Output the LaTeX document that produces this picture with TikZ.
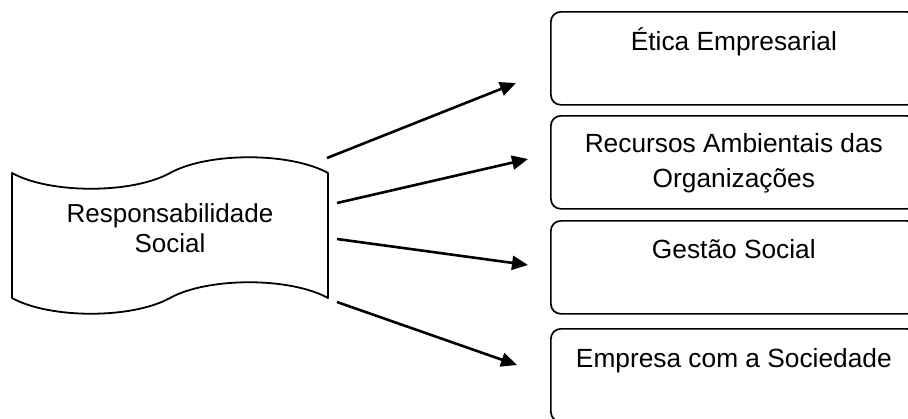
\documentclass[tikz,border=0pt]{standalone}
\usepackage{fontspec}
\setmainfont{Liberation Sans}
\usetikzlibrary{arrows.meta}

\tikzset{
  topic/.style={draw, line width=1.7pt, rounded corners=10pt,
    minimum width=366pt, minimum height=93pt, anchor=north west, inner sep=0pt},
  lbl/.style={font=\fontsize{26.3}{35}\selectfont, align=center, anchor=base, inner sep=0pt},
  link/.style={line width=2.6pt, -{Triangle[length=16pt,width=14pt]}},
  tapeline/.style={line width=1.8pt, line join=round}
}

\begin{document}
\begin{tikzpicture}[x=1pt, y=-1pt]
  \useasboundingbox (0,0) rectangle (908,418);

  % banner shape holding the central concept
  \draw[tapeline]
    (12,173) .. controls (50,194) and (132,194) .. (170,173)
             .. controls (208,152) and (290,152) .. (328,173)
    -- (328,298)
             .. controls (290,277) and (208,277) .. (170,298)
             .. controls (132,319) and (50,319) .. (12,298)
    -- cycle;
  % base anchor of a two-line node sits on its last line
  \node[font=\fontsize{26}{30}\selectfont, align=center, anchor=base, inner sep=0pt]
    (rs) at (170,252) {Responsabilidade\\Social};

  % the four related themes
  \node[topic] (b1) at (550,11)  {};
  \node[topic] (b2) at (550,115) {};
  \node[topic] (b3) at (550,220) {};
  \node[topic] (b4) at (550,328) {};

  \node[lbl] (t1) at ([yshift=-39pt]b1.north) {Ética Empresarial};
  \node[lbl] (t2) at ([yshift=-72pt]b2.north) {Recursos Ambientais das\\Organizações};
  \node[lbl] (t3) at ([yshift=-38pt]b3.north) {Gestão Social};
  \node[lbl] (t4) at ([yshift=-39pt]b4.north) {Empresa com a Sociedade};

  % arrow anchors beside the banner and in front of the boxes
  \coordinate (s1) at (327,158); \coordinate (e1) at (516,83);
  \coordinate (s2) at (337,203); \coordinate (e2) at (528,159);
  \coordinate (s3) at (337,239); \coordinate (e3) at (528,265);
  \coordinate (s4) at (337,302); \coordinate (e4) at (517,365);

  \draw[link] (s1) -- (e1);
  \draw[link] (s2) -- (e2);
  \draw[link] (s3) -- (e3);
  \draw[link] (s4) -- (e4);
\end{tikzpicture}
\end{document}
